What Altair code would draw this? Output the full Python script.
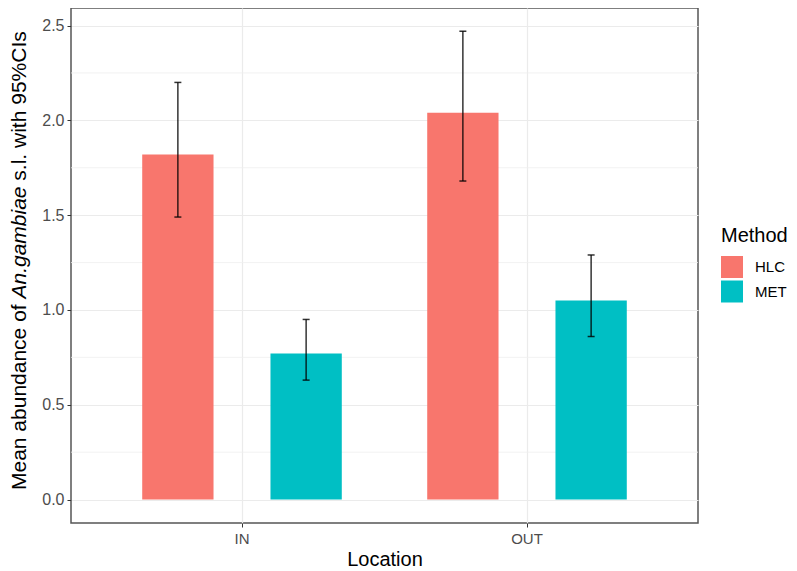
import altair as alt
import pandas as pd

# ---- data ----
locations = ["IN", "IN", "OUT", "OUT"]
methods = ["HLC", "MET", "HLC", "MET"]
means = [1.82, 0.77, 2.04, 1.05]
lowers = [1.49, 0.63, 1.68, 0.86]
uppers = [2.20, 0.95, 2.47, 1.29]

y_ticks = [0.0, 0.5, 1.0, 1.5, 2.0, 2.5]
y_minor = [0.25, 0.75, 1.25, 1.75, 2.25]
method_order = ["HLC", "MET"]
method_colors = ["#F8766D", "#00BFC4"]

df = pd.DataFrame({"Location": locations, "Method": methods,
                   "mean": means, "lower": lowers, "upper": uppers})
minor_df = pd.DataFrame({"mean": y_minor})

FONT = "Liberation Sans, Arial, Helvetica, sans-serif"
W, H = 627, 515

yscale = alt.Scale(domain=[-0.1235, 2.5925], nice=False, zero=False)
xscale = alt.Scale(paddingInner=0, paddingOuter=0.1)
offscale = alt.Scale(domain=method_order, paddingInner=0.444, paddingOuter=0.333)

x_enc = alt.X("Location:N", scale=xscale,
              axis=alt.Axis(title="Location", labelAngle=0, labelFontSize=15,
                            labelColor="#4D4D4D", labelPadding=4, tickSize=4,
                            tickColor="#333333", tickWidth=1, bandPosition=0.5,
                            grid=True, gridColor="#EBEBEB", gridWidth=1.2,
                            domain=False, titleFontSize=20, titleFontWeight="normal",
                            titleColor="#000000", titlePadding=3))

y_axis = alt.Axis(title="", values=y_ticks, format=".1f", labelFontSize=16,
                  labelColor="#4D4D4D", labelPadding=3, tickSize=4,
                  tickColor="#333333", tickWidth=1, grid=True,
                  gridColor="#EBEBEB", gridWidth=1.2, domain=False)

minor = alt.Chart(minor_df).mark_rule(color="#EFEFEF", strokeWidth=0.8).encode(
    y=alt.Y("mean:Q", scale=yscale, axis=y_axis))

bars = alt.Chart(df).mark_bar().encode(
    x=x_enc,
    xOffset=alt.XOffset("Method:N", scale=offscale),
    y=alt.Y("mean:Q", scale=yscale, axis=y_axis),
    color=alt.Color("Method:N", scale=alt.Scale(domain=method_order, range=method_colors),
                    legend=alt.Legend(title="Method", orient="none", legendX=650, legendY=218,
                                      titleFontSize=20, titleFontWeight="normal",
                                      titleColor="#000000", labelFontSize=15,
                                      labelColor="#000000", symbolType="square",
                                      symbolSize=484, symbolStrokeWidth=0,
                                      symbolOpacity=1, rowPadding=2.5,
                                      labelOffset=12, titlePadding=10, padding=0)),
)

err_rule = alt.Chart(df).mark_rule(color="#000000", opacity=0.8, strokeWidth=1.5).encode(
    x="Location:N",
    xOffset=alt.XOffset("Method:N", scale=offscale),
    y=alt.Y("lower:Q", scale=yscale),
    y2="upper:Q",
)
cap_lo = alt.Chart(df).mark_tick(color="#000000", opacity=0.8, thickness=1.5, size=7,
                                 orient="horizontal").encode(
    x="Location:N",
    xOffset=alt.XOffset("Method:N", scale=offscale),
    y=alt.Y("lower:Q", scale=yscale),
)
cap_hi = alt.Chart(df).mark_tick(color="#000000", opacity=0.8, thickness=1.5, size=7,
                                 orient="horizontal").encode(
    x="Location:N",
    xOffset=alt.XOffset("Method:N", scale=offscale),
    y=alt.Y("upper:Q", scale=yscale),
)

# y-axis title with italic species name, built from three text pieces
title_parts = ["Mean abundance of", "An.gambiae", "s.l. with 95%CIs"]
title_styles = ["normal", "italic", "normal"]
TS = 21
t_x = -51
p1 = 9.117 * TS
p2 = (5.336 + 0.278) * TS
starts = [482, 482 - p1, 482 - p1 - p2]
texts = []
for part, style, start in zip(title_parts, title_styles, starts):
    texts.append(
        alt.Chart(pd.DataFrame({"t": [part]})).mark_text(
            angle=270, align="left", baseline="middle", fontSize=TS,
            fontStyle=style, font=FONT, color="#000000").encode(
            text="t:N", x=alt.value(t_x), y=alt.value(start))
    )

chart = alt.layer(minor, bars, err_rule, cap_lo, cap_hi, *texts).properties(
    width=W, height=H, autosize="none",
    padding={"left": 63, "top": 0, "right": 90, "bottom": 48},
).configure(font=FONT, background="white").configure_view(
    stroke="#555555", strokeWidth=1.5)

chart.save("out.html", embed_options={"renderer": "svg", "actions": False})
